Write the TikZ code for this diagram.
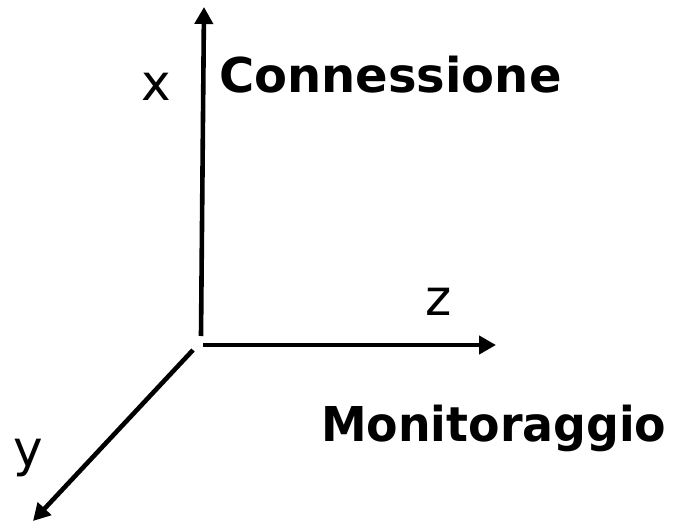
\documentclass[tikz,border=0pt]{standalone}
\usepackage{fontspec}
\setmainfont{DejaVu Sans}
\usetikzlibrary{arrows.meta}
\begin{document}
\begin{tikzpicture}[x=1pt,y=-1pt,
  axis/.style={line width=4.6pt,-{Triangle[length=17pt,width=18pt]}},
  lbl/.style={inner sep=0pt,font=\fontsize{50}{55}\selectfont},
  blbl/.style={inner sep=0pt,font=\fontsize{48}{52}\selectfont\bfseries}]
\useasboundingbox (0,0) rectangle (678,523);
\coordinate (xs) at (201,336);
\coordinate (xe) at (204,7);
\coordinate (zs) at (203,345);
\coordinate (ze) at (496,345);
\coordinate (ys) at (193,350);
\coordinate (ye) at (33,521);
\draw[axis] (xs) -- (xe);
\draw[axis] (zs) -- (ze);
\draw[axis] (ys) -- (ye);
\node[lbl,anchor=base] (xl) at (156,100) {x};
\node[lbl,anchor=base] (zl) at (439,315) {z};
\node[lbl,anchor=base] (yl) at (28,466) {y};
\node[blbl,anchor=base west] (con) at (219,92) {Connessione};
\node[blbl,anchor=base west] (mon) at (321,441) {\scalebox{0.955}[1]{Monitoraggio}};
\end{tikzpicture}
\end{document}
